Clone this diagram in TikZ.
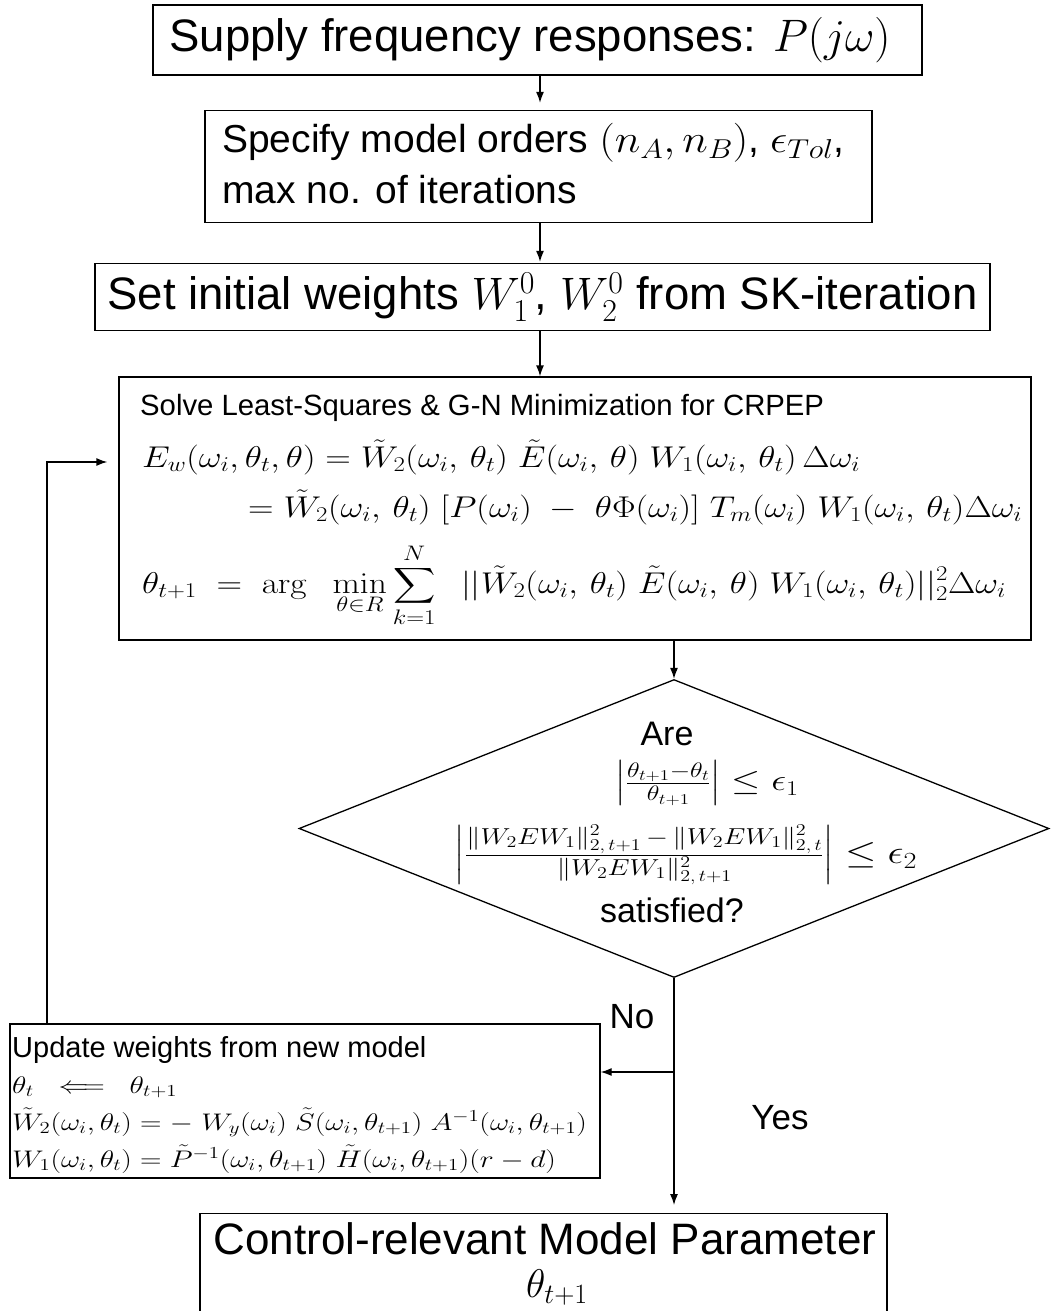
\RequirePackage{fix-cm}
\documentclass[tikz,border=0pt]{standalone}
\usepackage{amsmath}
\usepackage{graphicx}
\usepackage[no-math]{fontspec}
\setmainfont{Liberation Sans}
\usetikzlibrary{shapes.geometric,arrows.meta}
\newcommand{\fs}[1]{\fontsize{#1}{#1}\selectfont}
\newcommand{\xm}[2]{\scalebox{#1}[1]{#2}}
\begin{document}
\begin{tikzpicture}[x=1pt,y=-1pt,
  box/.style={draw, line width=1.3pt, rectangle, inner sep=0pt},
  lbl/.style={inner sep=0pt, anchor=base west},
  ctr/.style={inner sep=0pt},
  conn/.style={line width=1.3pt, -{Latex[length=11pt,width=8pt]}}]
\useasboundingbox (0,0) rectangle (1050,1311);
\fill[white] (0,0) rectangle (1050,1311);

% box 1
\node[box, minimum width=769pt, minimum height=70pt] (b1) at (537.5,40) {};
\node[ctr, font=\fs{45.5}] (t1) at (530,40) {Supply frequency responses: $P(j\omega)$};

% box 2
\node[box, minimum width=667pt, minimum height=112pt] (b2) at (538.5,166.5) {};
\node[lbl, font=\fs{39}] (t2a) at (222,153) {Specify model orders \xm{1.12}{$(n_A, n_B)$}, \xm{1.12}{$\epsilon_{Tol}$},};
\node[lbl, font=\fs{39}] (t2b) at (222,203) {max no. of iterations};

% box 3
\node[box, minimum width=895pt, minimum height=67pt, font=\fs{45.5}] (b3) at (542.5,297) {Set initial weights $W_1^0$, $W_2^0$ from SK-iteration};

% box 4
\node[box, minimum width=912pt, minimum height=263pt] (b4) at (575,508.5) {};
\node[lbl, font=\fs{29.3}] (t4a) at (140,415) {Solve Least-Squares \& G-N Minimization for CRPEP};
\node[lbl, font=\fs{30}] (t4b) at (142,467) {\xm{1.18}{$E_w(\omega_i,\theta_t,\theta) = \tilde W_2(\omega_i,\,\theta_t)\;\tilde E(\omega_i,\,\theta)\;W_1(\omega_i,\,\theta_t)\,\Delta\omega_i$}};
\node[lbl, font=\fs{30}] (t4c) at (248,517) {\xm{1.18}{$= \tilde W_2(\omega_i,\,\theta_t)\;[P(\omega_i)\;-\;\theta\Phi(\omega_i)]\;T_m(\omega_i)\;W_1(\omega_i,\,\theta_t)\Delta\omega_i$}};
\node[lbl, font=\fs{30}] (t4d) at (142,593) {\xm{1.18}{$\displaystyle \theta_{t+1} \;=\; \arg\;\;\min_{\theta\in R}\sum_{k=1}^{N}\;\;||\tilde W_2(\omega_i,\,\theta_t)\;\tilde E(\omega_i,\,\theta)\;W_1(\omega_i,\,\theta_t)||_2^2\Delta\omega_i$}};

% decision
\node[draw, diamond, line width=1.3pt, minimum width=750pt, minimum height=298pt, inner sep=0pt] (dia) at (674,828.5) {};
\node[ctr, font=\fs{34}] (are) at (667,734) {Are};
\node[ctr, font=\fs{30}] (c1) at (707,783) {\xm{1.25}{$\left|\frac{\theta_{t+1}-\theta_t}{\theta_{t+1}}\right| \le \epsilon_1$}};
\node[ctr, font=\fs{33}] (c2) at (686,855) {\xm{1.22}{$\left|\frac{\|W_2EW_1\|^2_{2,\,t+1}\,-\,\|W_2EW_1\|^2_{2,\,t}}{\|W_2EW_1\|^2_{2,\,t+1}}\right| \le \epsilon_2$}};
\node[ctr, font=\fs{34}] (sat) at (672,910) {satisfied?};

\node[ctr, font=\fs{35}] (no) at (632,1017) {No};
\node[ctr, font=\fs{35}] (yes) at (780,1118) {Yes};

% box 5
\node[box, minimum width=590pt, minimum height=154pt] (b5) at (305,1101) {};
\node[lbl, font=\fs{29}] (t5a) at (12,1057) {Update weights from new model};
\node[lbl, font=\fs{24}] (t5b) at (12,1093) {\xm{1.24}{$\theta_t\;\;\Longleftarrow\;\;\theta_{t+1}$}};
\node[lbl, font=\fs{24}] (t5c) at (12,1130) {\xm{1.24}{$\tilde W_2(\omega_i,\theta_t) = -\;W_y(\omega_i)\;\tilde S(\omega_i,\theta_{t+1})\;A^{-1}(\omega_i,\theta_{t+1})$}};
\node[lbl, font=\fs{24}] (t5d) at (12,1167) {\xm{1.24}{$W_1(\omega_i,\theta_t) = \tilde P^{-1}(\omega_i,\theta_{t+1})\;\tilde H(\omega_i,\theta_{t+1})(r-d)$}};

% box 6
\node[box, minimum width=687pt, minimum height=140pt, anchor=north] (b6) at (543.5,1213) {};
\node[ctr, font=\fs{44}] (t6a) at (545,1239) {Control-relevant Model Parameter};
\node[ctr, font=\fs{40}] (t6b) at (557,1287) {$\theta_{t+1}$};

% connectors
\draw[conn, shorten >=7pt] (b1.south -| 540,0) -- (b2.north -| 540,0);
\draw[conn, shorten >=1pt] (b2.south -| 540,0) -- (b3.north -| 540,0);
\draw[conn] (b3.south -| 540,0) -- (b4.north -| 540,0);
\draw[conn] (b4.south -| dia.north) -- (dia.north);
\draw[conn, shorten >=8pt] (dia.south) -- (dia.south |- b6.north);
\coordinate (br) at (dia.south |- 0,1072);
\draw[conn] (br) -- (br -| b5.east);
\coordinate (lp) at (47,462);
\draw[conn, shorten >=11pt] (lp |- b5.north) -- (lp) -- (lp -| b4.west);
\end{tikzpicture}
\end{document}
